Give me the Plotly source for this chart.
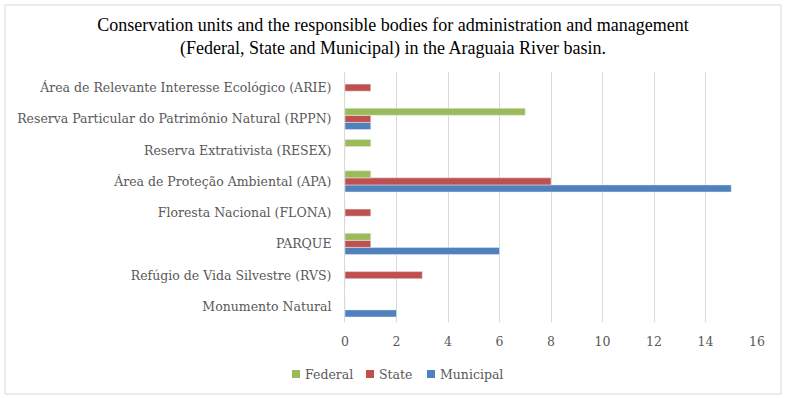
import plotly.graph_objects as go

categories = [
    "Monumento Natural",
    "Refúgio de Vida Silvestre (RVS)",
    "PARQUE",
    "Floresta Nacional (FLONA)",
    "Área de Proteção Ambiental (APA)",
    "Reserva Extrativista (RESEX)",
    "Reserva Particular do Patrimônio Natural (RPPN)",
    "Área de Relevante Interesse Ecológico (ARIE)",
]
federal = [0, 0, 1, 0, 1, 1, 7, 0]
state = [0, 3, 1, 1, 8, 0, 1, 1]
municipal = [2, 0, 6, 0, 15, 0, 1, 0]
x_ticks = [0, 2, 4, 6, 8, 10, 12, 14, 16]
series_names = ["Federal", "State", "Municipal"]
series_colors = ["#9BBB59", "#C0504D", "#4F81BD"]

FONT = "DejaVu Serif"
GRAY = "#595959"

L, R, T, B = 345, 757, 72, 322
W, H = 786, 398
pw, ph = R - L, B - T

fig = go.Figure()
for name, vals, col in [("Municipal", municipal, series_colors[2]),
                        ("State", state, series_colors[1]),
                        ("Federal", federal, series_colors[0])]:
    fig.add_trace(go.Bar(name=name, y=categories, x=vals, orientation="h",
                         marker_color=col, showlegend=False))


def px(x):
    return (x - L) / pw


def py(y):
    return (B - y) / ph


shapes = [dict(type="rect", xref="paper", yref="paper",
               x0=px(5), x1=px(781), y0=py(394), y1=py(5),
               line=dict(color="#D9D9D9", width=1), layer="below")]
annotations = []
legend_x = [292, 366, 427]
LEG_Y = 374
for name, col, lx in zip(series_names, series_colors, legend_x):
    shapes.append(dict(type="rect", xref="paper", yref="paper",
                       x0=px(lx), x1=px(lx + 8), y0=py(LEG_Y + 4), y1=py(LEG_Y - 4),
                       fillcolor=col, line=dict(width=0)))
    annotations.append(dict(text=name, xref="paper", yref="paper",
                            x=px(lx + 11), y=py(LEG_Y), xanchor="left", yanchor="middle",
                            showarrow=False,
                            font=dict(family=FONT, size=12.5, color=GRAY)))

fig.update_layout(
    width=W, height=H,
    margin=dict(l=L, r=W - R, t=T, b=H - B, autoexpand=False),
    paper_bgcolor="white", plot_bgcolor="white",
    barmode="group", bargap=0.32, bargroupgap=0,
    font=dict(family=FONT, size=12.5, color=GRAY),
    title=dict(
        text="Conservation units and the responsible bodies for administration and management<br>(Federal, State and Municipal) in the Araguaia River basin.",
        x=0.5, xref="container", xanchor="center",
        y=(H - 31) / H, yanchor="middle",
        font=dict(family="Liberation Serif", size=18, color="#000000"),
    ),
    xaxis=dict(range=[0, 16], tickvals=x_ticks, showgrid=True, gridcolor="#D9D9D9",
               gridwidth=1, zeroline=False, showline=False, ticks="",
               ticklabelstandoff=10,
               tickfont=dict(family=FONT, size=12.5, color=GRAY)),
    yaxis=dict(showgrid=False, zeroline=False, showline=True, linecolor="#D9D9D9",
               ticks="", ticklabelstandoff=10,
               tickfont=dict(family=FONT, size=12.5, color=GRAY)),
    showlegend=False,
    shapes=shapes,
    annotations=annotations,
)

fig.write_html("out.html", config={"displayModeBar": False},
               post_script="document.body.style.margin='0';")
